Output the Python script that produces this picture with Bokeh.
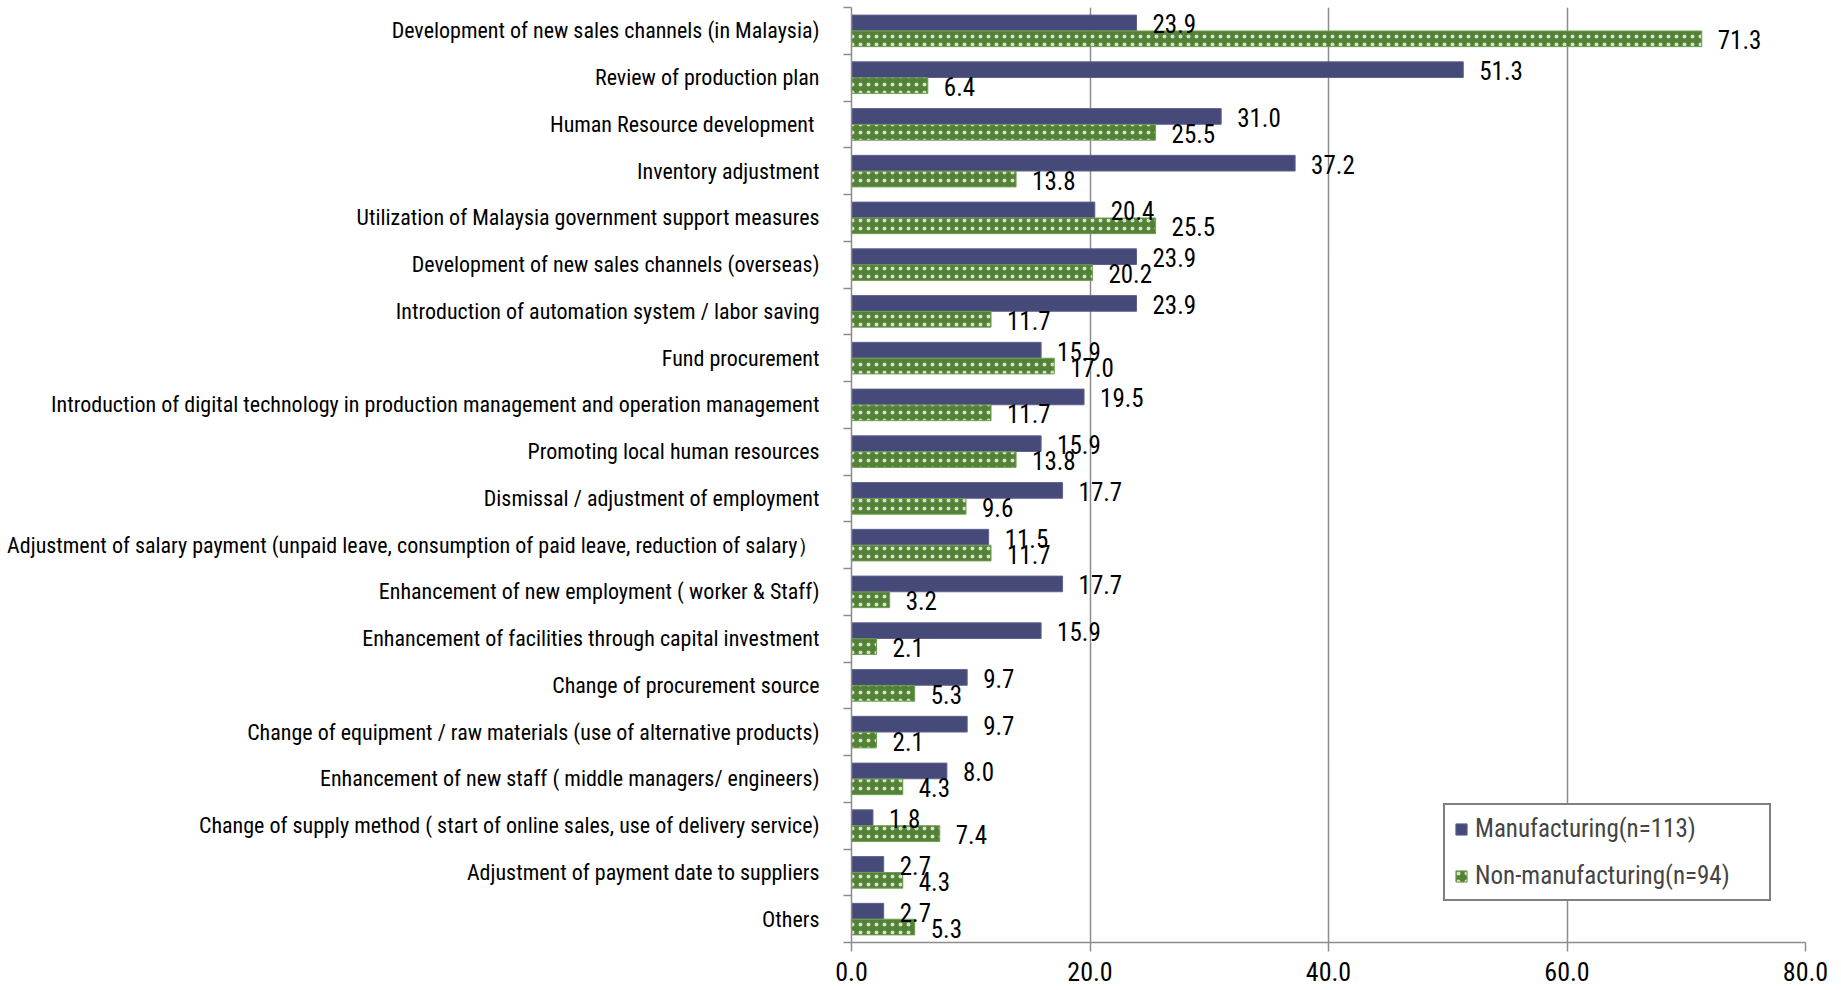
from bokeh.plotting import figure
from bokeh.models import (ColumnDataSource, Range1d, FixedTicker, NumeralTickFormatter,
                          Legend, LegendItem)
from bokeh.core.properties import value
from bokeh.embed import file_html
from bokeh.resources import INLINE

categories = [
    "Development of new sales channels (in Malaysia)",
    "Review of production plan",
    "Human Resource  development",
    "Inventory adjustment",
    "Utilization of Malaysia government support measures",
    "Development of new sales channels (overseas)",
    "Introduction of automation system / labor saving",
    "Fund procurement",
    "Introduction of digital technology in production management and operation management",
    "Promoting local human resources",
    "Dismissal / adjustment of employment",
    "Adjustment of salary payment (unpaid leave, consumption of paid leave, reduction of salary\uff09",
    "Enhancement of new employment ( worker & Staff)",
    "Enhancement of facilities through capital investment",
    "Change of procurement source",
    "Change of equipment / raw materials (use of alternative products)",
    "Enhancement of new staff ( middle managers/ engineers)",
    "Change of supply method ( start of online sales, use of delivery service)",
    "Adjustment of payment date to suppliers",
    "Others",
]
manufacturing = [23.9, 51.3, 31.0, 37.2, 20.4, 23.9, 23.9, 15.9, 19.5, 15.9,
                 17.7, 11.5, 17.7, 15.9, 9.7, 9.7, 8.0, 1.8, 2.7, 2.7]
non_manufacturing = [71.3, 6.4, 25.5, 13.8, 25.5, 20.2, 11.7, 17.0, 11.7, 13.8,
                     9.6, 11.7, 3.2, 2.1, 5.3, 2.1, 4.3, 7.4, 4.3, 5.3]
series_names = ["Manufacturing(n=113)", "Non-manufacturing(n=94)"]
x_ticks = [0, 20, 40, 60, 80]

FONT = "Roboto Condensed"
BLUE = "#464A78"
GREEN = "#538135"
GRAY = "#8C8C8C"

n = len(categories)
pos = list(range(n))
OFF = 0.17
BAR_H = 0.335

src_m = ColumnDataSource(dict(y=[q - OFF for q in pos], v=manufacturing,
                              lbl=[f"{v:.1f}" for v in manufacturing]))
src_n = ColumnDataSource(dict(y=[q + OFF for q in pos], v=non_manufacturing,
                              lbl=[f"{v:.1f}" for v in non_manufacturing]))

p = figure(width=1841, height=990, output_backend="svg", toolbar_location=None,
           x_range=Range1d(x_ticks[0], x_ticks[-1]), y_range=Range1d(n - 0.5, -0.5),
           min_border_left=851, min_border_right=36, min_border_top=7, min_border_bottom=48)
p.outline_line_color = None
p.background_fill_color = "white"

r1 = p.hbar(y="y", left=0, right="v", height=BAR_H, source=src_m,
            fill_color=BLUE, line_color="#5E6190", line_width=1)
r2 = p.hbar(y="y", left=0, right="v", height=BAR_H, source=src_n,
            fill_color=GREEN, line_color="#6E9E50", line_width=1,
            hatch_pattern="dot", hatch_color="white", hatch_scale=8,
            hatch_weight=0.3, hatch_alpha=0.75)

for src in (src_m, src_n):
    p.text(x="v", y="y", text="lbl", source=src, x_offset=16, y_offset=1,
           text_baseline="middle", text_align="left",
           text_font=value(FONT), text_font_size="25px", text_color="black")

# x axis
p.xaxis.ticker = FixedTicker(ticks=x_ticks)
p.xaxis.formatter = NumeralTickFormatter(format="0.0")
p.xaxis.axis_line_color = GRAY
p.xaxis.axis_line_width = 1.5
p.xaxis.major_tick_line_color = GRAY
p.xaxis.major_tick_line_width = 1.5
p.xaxis.major_tick_out = 9
p.xaxis.major_tick_in = 0
p.xaxis.minor_tick_line_color = None
p.xaxis.major_label_standoff = 10
p.xaxis.major_label_text_font = FONT
p.xaxis.major_label_text_font_size = "26px"
p.xaxis.major_label_text_color = "black"

# y axis
p.yaxis.ticker = FixedTicker(ticks=pos, minor_ticks=[q - 0.5 for q in range(n + 1)])
p.yaxis.major_label_overrides = {i: c for i, c in enumerate(categories)}
p.yaxis.axis_line_color = GRAY
p.yaxis.axis_line_width = 1.5
p.yaxis.major_tick_out = 0
p.yaxis.major_tick_in = 0
p.yaxis.major_tick_line_color = None
p.yaxis.minor_tick_out = 8
p.yaxis.minor_tick_in = 0
p.yaxis.minor_tick_line_color = GRAY
p.yaxis.minor_tick_line_width = 1.5
p.yaxis.major_label_standoff = 24
p.yaxis.major_label_text_font = FONT
p.yaxis.major_label_text_font_size = "22px"
p.yaxis.major_label_text_color = "black"

p.xgrid.ticker = FixedTicker(ticks=x_ticks[1:])
p.xgrid.grid_line_color = GRAY
p.xgrid.grid_line_width = 1.5
p.ygrid.visible = False

legend = Legend(items=[LegendItem(label=series_names[0], renderers=[r1]),
                       LegendItem(label=series_names[1], renderers=[r2])],
                location=(592, 41), margin=0, padding=9, spacing=18,
                glyph_width=14, glyph_height=14, label_standoff=7, label_width=285,
                label_text_font=FONT, label_text_font_size="25px",
                border_line_color="black", border_line_width=2,
                background_fill_color="white", background_fill_alpha=1.0)
p.add_layout(legend)

open("out.html", "w").write(file_html(p, INLINE))
